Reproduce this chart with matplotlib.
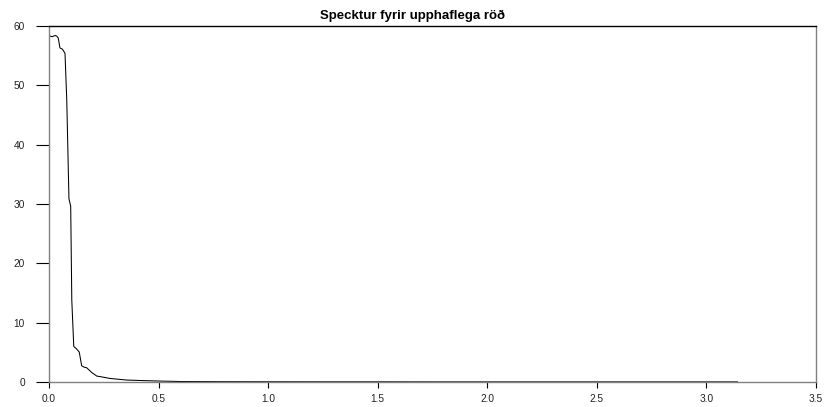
import matplotlib
matplotlib.use("Agg")
import matplotlib.pyplot as plt

# Spectrum values
freq = [0.0046, 0.015, 0.027, 0.035, 0.042, 0.050, 0.061, 0.073, 0.081, 0.091,
        0.099, 0.104, 0.113, 0.125, 0.138, 0.149, 0.160, 0.172, 0.195, 0.218,
        0.250, 0.278, 0.320, 0.355, 0.420, 0.492, 0.60, 0.80, 1.00, 1.25,
        1.50, 1.75, 2.00, 2.25, 2.50, 2.75, 3.00, 3.1416]
spec = [58.3, 58.2, 58.4, 58.3, 58.0, 56.3, 56.1, 55.4, 47.6, 30.9,
        29.6, 13.8, 6.0, 5.6, 5.05, 2.75, 2.5, 2.4, 1.6, 1.0,
        0.8, 0.6, 0.45, 0.33, 0.25, 0.17, 0.08, 0.05, 0.04, 0.03,
        0.03, 0.02, 0.02, 0.02, 0.02, 0.02, 0.02, 0.02]

title = "Specktur fyrir upphaflega röð"
xticks = [0.0, 0.5, 1.0, 1.5, 2.0, 2.5, 3.0, 3.5]
yticks = [0, 10, 20, 30, 40, 50, 60]

plt.rcParams['font.family'] = ['Liberation Sans', 'DejaVu Sans']

fig = plt.figure(figsize=(8.26, 4.07), dpi=100)
ax = fig.add_axes([49/826, 1 - 382/407, (816-49)/826, (382-26)/407])
ax.plot(freq, spec, color='black', lw=0.75)
ax.set_xlim(0, 3.5)
ax.set_ylim(0, 60)
ax.set_xticks(xticks)
ax.set_xticklabels([f"{t:.1f}" for t in xticks])
ax.set_yticks(yticks)
ax.set_yticklabels([str(t) for t in yticks])
ax.tick_params(axis='x', direction='out', length=4.3, width=0.8, pad=4,
               labelsize=7.3, colors='black', labelcolor='#222222')
ax.tick_params(axis='y', direction='out', length=9.4, width=0.8, pad=8,
               labelsize=7.3, colors='black', labelcolor='#222222')
for s in ['left', 'right', 'bottom']:
    ax.spines[s].set_color('#808080')
    ax.spines[s].set_linewidth(1.0)
ax.spines['top'].set_color('black')
ax.spines['top'].set_linewidth(1.0)

fig.text(0.5, 1 - 19/407, title, ha='center', va='baseline',
         fontsize=9.5, fontweight='bold')

fig.savefig("out.png", dpi=100)
